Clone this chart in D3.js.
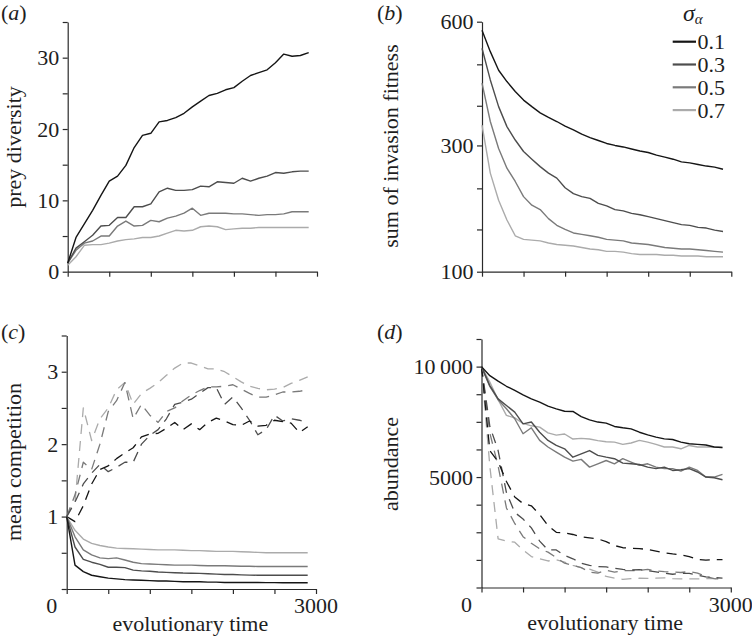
<!DOCTYPE html>
<html><head><meta charset="utf-8">
<script src="https://cdn.jsdelivr.net/npm/d3@7"></script>
<style>
body{margin:0;background:#fff}
text{font-family:"Liberation Serif","Times New Roman",Times,serif;fill:#1e1e1e}
</style>
</head><body>
<svg id="chart" width="752" height="640"></svg>
<script>
// ---------------- data ----------------
const time = [0,100,200,300,400,500,600,700,800,900,1000,1100,1200,1300,1400,1500,1600,1700,1800,1900,2000,2100,2200,2300,2400,2500,2600,2700,2800,2900];
const sigmaLevels = ["0.1","0.3","0.5","0.7"];
const xTicks = [0,500,1000,1500,2000,2500,3000];

// (a) prey diversity
const diversity01 = [1.2,4.8,6.7,8.6,10.7,12.7,13.4,14.9,17.4,19.1,19.4,21.0,21.2,21.6,22.2,23.1,23.9,24.7,25.0,25.5,25.8,26.7,27.5,27.9,28.3,29.3,30.5,30.2,30.3,30.7];
const diversity03 = [1.2,3.3,4.2,5.1,6.4,6.5,7.6,7.6,9.1,9.1,9.5,11.2,11.7,11.4,11.4,11.5,12.0,11.9,12.6,12.5,12.4,13.1,12.7,13.1,13.4,13.9,13.8,14.0,14.1,14.1];
const diversity05 = [1.2,3.0,4.0,4.3,5.0,5.0,6.4,7.1,6.4,6.5,7.2,7.0,7.5,7.8,8.2,8.9,7.9,8.2,8.2,8.2,8.1,8.1,8.0,7.9,8.0,8.0,8.1,8.4,8.4,8.4];
const diversity07 = [0.9,2.1,3.7,3.8,3.8,4.0,4.3,4.5,4.6,4.8,4.8,5.0,5.4,5.8,5.7,5.8,6.3,6.4,6.3,5.9,6.0,6.1,6.1,6.2,6.2,6.2,6.2,6.2,6.2,6.2];
const diversityTicks = [0,5,10,15,20,25,30,35];
const diversityLabels = [0,10,20,30];

// (b) sum of invasion fitness
const fitness01 = [576,518,470,442,418,398,383,369,359,350,340,332,323,316,310,304,300,297,293,289,286,281,277,273,268,266,263,260,258,254];
const fitness03 = [527,446,383,339,311,288,273,259,247,238,221,211,206,203,195,191,185,183,179,177,174,171,168,165,162,161,158,157,154,152];
const fitness05 = [438,350,294,256,232,206,192,185,171,161,155,150,148,146,144,141,140,139,136,135,134,132,130,129,128,128,127,126,125,124];
const fitness07 = [342,247,200,169,146,141,140,139,136,134,133,132,130,128,127,125,125,124,122,121,121,121,120,120,119,119,119,118,118,118];
const fitnessTicks = [100,155,220,300,385,485,600];
const fitnessLabels = [100,300,600];

// (c) mean competition (solid / dashed)
const compSolid01 = [1.0,0.33,0.24,0.19,0.17,0.15,0.14,0.13,0.125,0.12,0.115,0.11,0.11,0.105,0.10,0.10,0.10,0.095,0.095,0.09,0.09,0.09,0.09,0.09,0.088,0.088,0.087,0.087,0.087,0.087];
const compSolid03 = [1.0,0.58,0.41,0.37,0.34,0.30,0.30,0.295,0.26,0.25,0.245,0.235,0.23,0.225,0.22,0.218,0.216,0.21,0.205,0.20,0.20,0.195,0.192,0.19,0.19,0.19,0.19,0.19,0.19,0.19];
const compSolid05 = [1.0,0.72,0.54,0.47,0.43,0.42,0.43,0.40,0.37,0.35,0.345,0.34,0.335,0.33,0.33,0.33,0.325,0.32,0.32,0.32,0.318,0.315,0.315,0.31,0.31,0.31,0.31,0.31,0.31,0.31];
const compSolid07 = [1.0,0.81,0.69,0.63,0.60,0.58,0.565,0.56,0.555,0.55,0.545,0.54,0.54,0.54,0.535,0.53,0.53,0.525,0.52,0.52,0.52,0.515,0.51,0.505,0.50,0.50,0.50,0.50,0.50,0.50];
const compDash01 = [1.0,0.93,1.15,1.45,1.65,1.7,1.8,1.88,1.95,2.1,2.14,2.15,2.22,2.3,2.2,2.28,2.2,2.3,2.36,2.32,2.27,2.26,2.32,2.25,2.26,2.33,2.31,2.29,2.16,2.24];
const compDash03 = [1.0,1.2,1.45,1.6,1.72,1.62,1.68,1.75,1.75,2.0,2.12,2.2,2.35,2.55,2.58,2.62,2.7,2.78,2.78,2.55,2.65,2.5,2.33,2.13,2.2,2.4,2.32,2.35,2.33,2.3];
const compDash05 = [1.0,1.3,1.75,1.65,2.0,2.45,2.6,2.85,2.35,2.55,2.4,2.3,2.45,2.5,2.6,2.68,2.74,2.79,2.79,2.8,2.82,2.76,2.7,2.65,2.65,2.68,2.72,2.72,2.73,2.75];
const compDash07 = [1.0,1.2,2.5,2.05,2.35,2.5,2.75,2.85,2.55,2.7,2.77,2.85,2.95,3.05,3.12,3.12,3.08,3.04,3.04,3.0,2.93,2.86,2.8,2.77,2.75,2.76,2.78,2.84,2.88,2.93];
const compTicks = [0,0.5,1,1.5,2,2.5,3,3.5];
const compLabels = [1,2,3];

// (d) abundance (solid / dashed)
const abundSolid01 = [10000,9590,9340,9110,8920,8720,8540,8390,8210,8090,7980,7970,7740,7590,7490,7440,7290,7230,7180,7030,6910,6810,6730,6700,6580,6510,6480,6450,6360,6340];
const abundSolid03 = [10000,9140,8540,8240,7940,7410,7490,7030,6660,6430,6280,5900,6050,6200,5980,5900,5830,5630,5600,5570,5450,5380,5450,5300,5330,5380,5230,5000,4970,4880];
const abundSolid05 = [10000,9100,8500,8090,7640,6960,7230,6660,6360,6130,5900,5720,5800,5450,5600,5750,5600,5830,5680,5530,5600,5450,5380,5380,5270,5450,5300,5000,5000,5120];
const abundSolid07 = [10000,9300,8500,7790,7680,7430,7320,7260,7000,6900,6950,6720,6750,6720,6650,6600,6580,6480,6540,6660,6580,6480,6360,6360,6280,6430,6360,6360,6360,6340];
const abundDash01 = [10000,6200,5700,4800,4100,3800,3700,3300,2800,2500,2470,2400,2300,2250,2200,2080,1900,1800,1780,1760,1720,1650,1570,1520,1480,1400,1270,1240,1260,1260];
const abundDash03 = [10000,7300,6200,4300,3400,3100,2700,2100,1700,1700,1450,1300,1100,1000,950,930,870,820,790,810,760,710,650,600,640,640,560,480,450,420];
const abundDash05 = [10000,7000,5500,3600,2900,2300,2000,1750,1600,1350,1100,1000,900,700,650,780,700,760,760,780,820,750,720,700,680,720,650,500,400,380];
const abundDash07 = [10000,5500,2200,2100,2050,1700,1400,1300,1200,1250,1150,1000,900,830,700,500,420,370,400,420,410,420,440,400,390,390,390,400,400,380];
const abundTicks = [0,1250,2500,3750,5000,6250,7500,8750,10000,11250];
const abundLabels = [5000,10000];

// ---------------- drawing ----------------
const colors = ["#151515","#4d4d4d","#7a7a7a","#ababab"];
const svg = d3.select("#chart");
const FS = 22;

function drawPanel(p) {
  const g = svg.append("g");
  const x = d3.scaleLinear().domain([0,3000]).range([p.x0, p.x1]);
  const y = p.y;
  const gx = g.append("g").attr("transform", `translate(0,${p.yBot})`)
    .call(d3.axisBottom(x).tickValues(xTicks).tickSize(5).tickSizeOuter(0).tickFormat(""));
  const gy = g.append("g").attr("transform", `translate(${p.x0},0)`)
    .call(d3.axisLeft(y).tickValues(p.ticks).tickSize(5).tickSizeOuter(0)
      .tickFormat(d => p.labels.includes(d) ? p.fmt(d) : ""));
  [gx, gy].forEach(a => {
    a.selectAll("path,line").attr("stroke", "#2a2a2a").attr("stroke-width", 1.2);
    a.attr("font-family", null).attr("font-size", null);
  });
  gy.selectAll("text").attr("x", -8.5).attr("font-size", FS).attr("fill", "#1e1e1e");
  const line = d3.line().x((d, i) => x(time[i])).y(d => y(d));
  p.series.forEach(s => {
    g.append("path").datum(s.v).attr("d", line).attr("fill", "none")
      .attr("stroke", colors[s.c]).attr("stroke-width", s.dash ? 1.3 : 1.4)
      .attr("stroke-linejoin", "round")
      .attr("stroke-dasharray", s.dash ? "10,7" : null);
  });
  // panel letter
  const t = g.append("text").attr("x", p.lx).attr("y", p.ly).attr("font-size", FS);
  t.append("tspan").text("(");
  t.append("tspan").attr("font-style", "italic").text(p.letter);
  t.append("tspan").text(")");
  // y title
  g.append("text").attr("transform", `translate(${p.tx},${p.ty}) rotate(-90)`)
    .attr("text-anchor", "middle").attr("font-size", FS).text(p.title);
  if (p.xlab) {
    g.append("text").attr("x", x(0) - 15).attr("y", p.yBot + 24).attr("text-anchor", "middle")
      .attr("font-size", FS).text("0");
    g.append("text").attr("x", x(3000)).attr("y", p.yBot + 24).attr("text-anchor", "middle")
      .attr("font-size", FS).text("3000");
    g.append("text").attr("x", (p.x0 + p.x1) / 2 - 1).attr("y", p.yBot + 42).attr("text-anchor", "middle")
      .attr("font-size", FS).text("evolutionary time");
  }
  return {x, y};
}

// (a)
drawPanel({
  x0: 67.7, x1: 317, yBot: 271.7,
  y: d3.scaleLinear().domain([0,35]).range([271.7, 22]),
  ticks: diversityTicks, labels: diversityLabels, fmt: d => String(d),
  series: [diversity07, diversity05, diversity03, diversity01].map((v, k) => ({v, c: 3 - k})),
  letter: "a", lx: 1, ly: 20, title: "prey diversity", tx: 21, ty: 147
});

// (b)
drawPanel({
  x0: 482, x1: 731.3, yBot: 271.7,
  y: d3.scaleSqrt().domain([100,600]).range([271.7, 21.7]),
  ticks: fitnessTicks, labels: fitnessLabels, fmt: d => String(d),
  series: [fitness07, fitness05, fitness03, fitness01].map((v, k) => ({v, c: 3 - k})),
  letter: "b", lx: 377, ly: 20, title: "sum of invasion fitness", tx: 398, ty: 146
});

// (c)
drawPanel({
  x0: 66.7, x1: 316, yBot: 589,
  y: d3.scaleLinear().domain([0,3.5]).range([589, 335.5]),
  ticks: compTicks, labels: compLabels, fmt: d => String(d),
  series: [
    ...[compDash07, compDash05, compDash03, compDash01].map((v, k) => ({v, c: 3 - k, dash: true})),
    ...[compSolid07, compSolid05, compSolid03, compSolid01].map((v, k) => ({v, c: 3 - k}))
  ],
  letter: "c", lx: 1, ly: 339, title: "mean competition", tx: 21, ty: 462, xlab: true
});

// (d)
drawPanel({
  x0: 481.5, x1: 730.8, yBot: 587.5,
  y: d3.scaleLinear().domain([0,11250]).range([587.5, 339]),
  ticks: abundTicks, labels: abundLabels, fmt: d => d === 10000 ? "10\u2009000" : String(d),
  series: [
    ...[abundDash07, abundDash05, abundDash03, abundDash01].map((v, k) => ({v, c: 3 - k, dash: true})),
    ...[abundSolid07, abundSolid05, abundSolid03, abundSolid01].map((v, k) => ({v, c: 3 - k}))
  ],
  letter: "d", lx: 377, ly: 339, title: "abundance", tx: 398, ty: 464, xlab: true
});

// legend
const lg = svg.append("g");
const lt = lg.append("text").attr("x", 683).attr("y", 21).attr("font-size", 24);
lt.append("tspan").attr("font-style", "italic").text("σ");
lt.append("tspan").attr("font-style", "italic").attr("font-size", 15).attr("dy", 3).text("α");
sigmaLevels.forEach((s, k) => {
  const yy = 41.7 + k * 22.8;
  lg.append("line").attr("x1", 672.7).attr("x2", 696).attr("y1", yy).attr("y2", yy)
    .attr("stroke", colors[k]).attr("stroke-width", 2.2);
  lg.append("text").attr("x", 697.5).attr("y", yy).attr("dy", "0.35em").attr("font-size", FS).text(s);
});
</script>
</body></html>
